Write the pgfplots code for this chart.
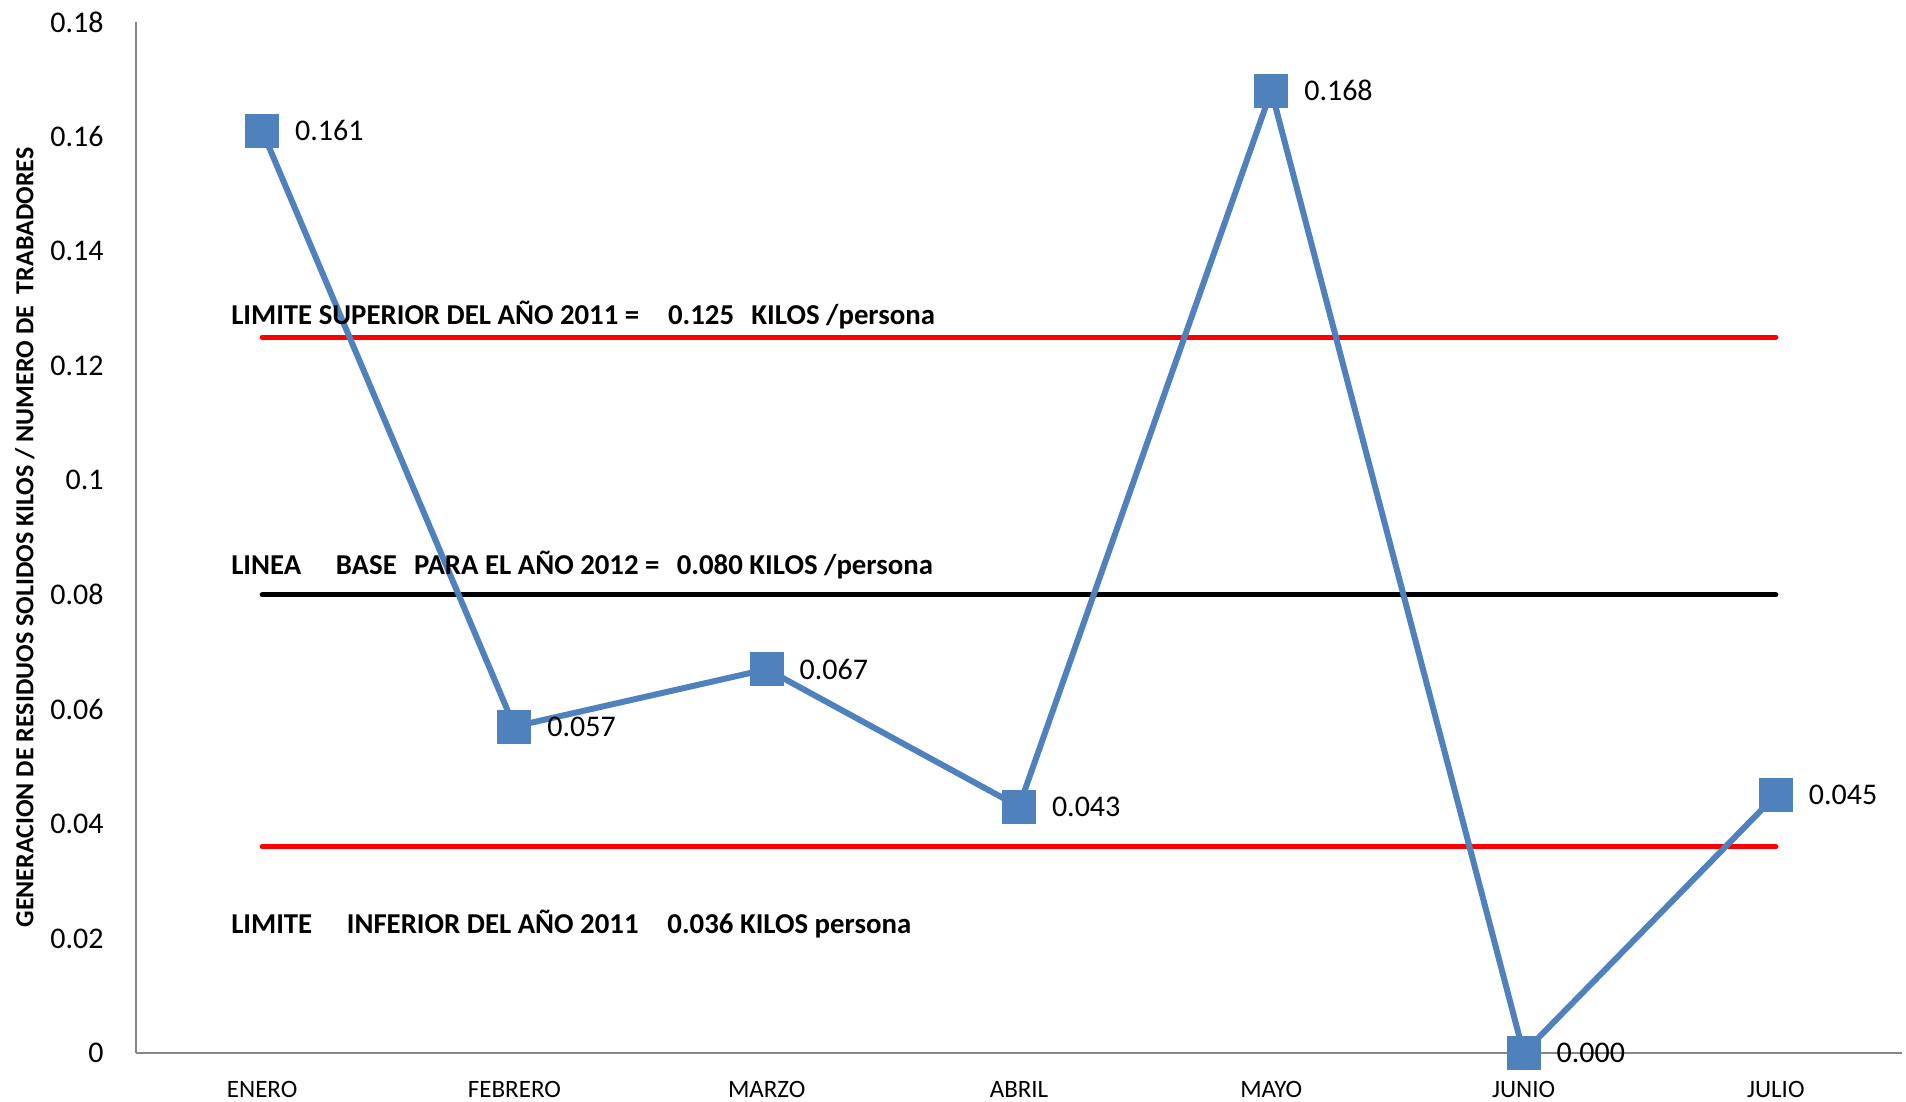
\documentclass[border=0pt]{standalone}
\usepackage{fontspec}
\setmainfont{Carlito}
\usepackage{pgfplots}
\pgfplotsset{compat=1.18}
\definecolor{serie}{HTML}{4F81BD}
\definecolor{eje}{HTML}{868686}
\definecolor{limite}{HTML}{FF0000}

\begin{document}
\begin{tikzpicture}
\begin{axis}[
    name=ax,
    scale only axis,
    width=883pt, height=515.5pt,
    xmin=-0.5, xmax=6.5,
    ymin=0, ymax=0.18,
    axis x line=bottom, axis y line=left,
    axis line style={eje, line width=0.8pt, -},
    major tick length=0pt,
    xtick={0,...,6},
    xticklabels={ENERO,FEBRERO,MARZO,ABRIL,MAYO,JUNIO,JULIO},
    ytick={0,0.02,...,0.18},
    scaled y ticks=false,
    /pgf/number format/assume math mode=true,
    yticklabel style={/pgf/number format/fixed, /pgf/number format/precision=2,
        font=\fontsize{15}{18}\selectfont, inner sep=0pt, xshift=-16pt},
    xticklabel style={font=\fontsize{12.5}{15}\selectfont, inner sep=0pt, yshift=-14pt},
    ylabel={GENERACION DE RESIDUOS SOLIDOS KILOS / NUMERO DE\ \ TRABADORES},
    ylabel style={font=\fontsize{13}{15}\selectfont\bfseries,
        at={(axis description cs:-0.0629,0.5)}, anchor=center},
    clip=false,
]
% limites
\addplot[limite, line width=2.5pt, line cap=round] coordinates {(0,0.125) (6,0.125)};
\addplot[limite, line width=2.5pt, line cap=round] coordinates {(0,0.036) (6,0.036)};
\addplot[black, line width=2.5pt, line cap=round] coordinates {(0,0.080) (6,0.080)};

% serie mensual
\addplot[serie, line width=3pt, mark=square*, mark size=8.25pt,
    mark options={solid, fill=serie, draw=serie, line width=0pt},
    point meta=explicit symbolic,
    nodes near coords,
    every node near coord/.style={anchor=west, inner sep=0pt, xshift=16.5pt,
        text=black, font=\fontsize{15}{18}\selectfont},
] coordinates {
    (0,0.161) [0.161]
    (1,0.057) [0.057]
    (2,0.067) [0.067]
    (3,0.043) [0.043]
    (4,0.168) [0.168]
    (5,0.000) [0.000]
    (6,0.045) [0.045]
};

\node[anchor=west, inner sep=0pt, font=\fontsize{14.4}{17}\selectfont\bfseries]
    at (axis cs:-0.124,0.1289) {LIMITE SUPERIOR DEL AÑO 2011 =\hspace{1em}0.125\hspace{0.6em}KILOS /persona};
\node[anchor=west, inner sep=0pt, font=\fontsize{14.4}{17}\selectfont\bfseries]
    at (axis cs:-0.124,0.0852) {LINEA\hspace{1.2em}BASE\hspace{0.6em}PARA EL AÑO 2012 =\hspace{0.6em}0.080 KILOS /persona};
\node[anchor=west, inner sep=0pt, font=\fontsize{14.4}{17}\selectfont\bfseries]
    at (axis cs:-0.124,0.0225) {LIMITE\hspace{1.2em}INFERIOR DEL AÑO 2011\hspace{1em}0.036 KILOS persona};
\end{axis}
\pgfresetboundingbox
\path ([shift={(-68pt,-24pt)}]ax.south west) rectangle ([shift={(2pt,11pt)}]ax.north east);
\end{tikzpicture}
\end{document}
